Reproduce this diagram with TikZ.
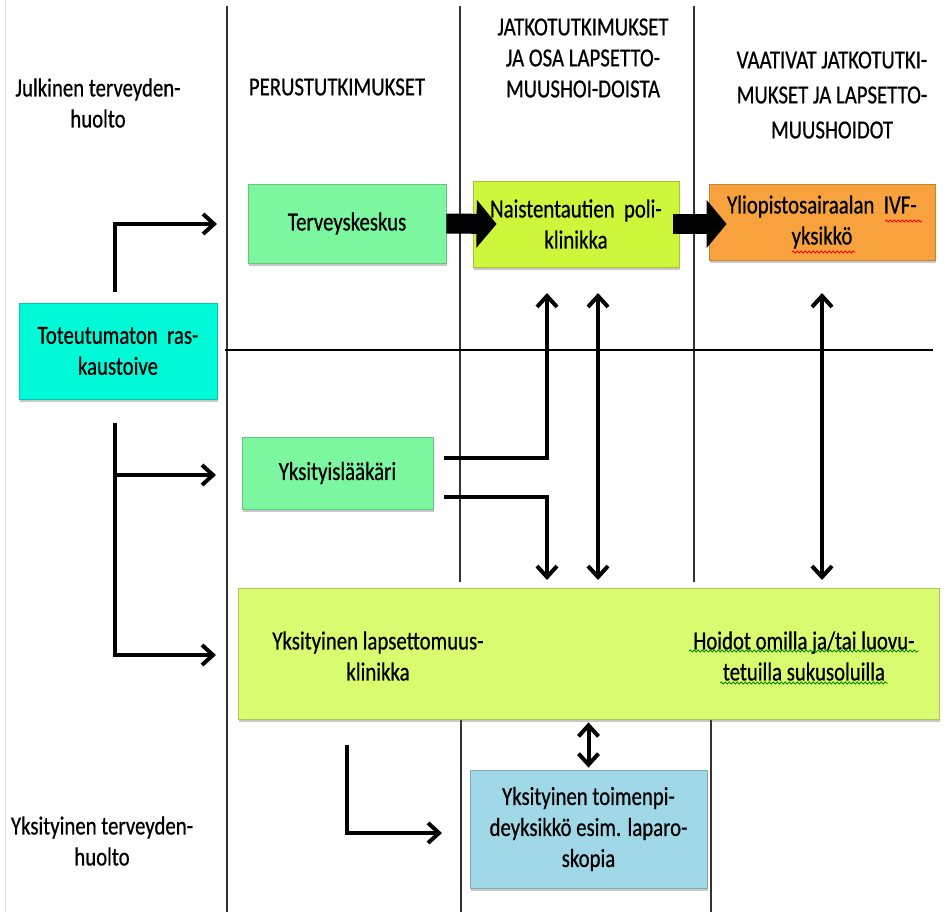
\documentclass[tikz,border=0pt]{standalone}
\usepackage{fontspec}
\setmainfont{Carlito}[FakeStretch=0.8,FakeBold=0.6]
\usepackage{tikz}
\usetikzlibrary{arrows.meta,shadows,decorations.pathmorphing,calc}

\definecolor{tkgreen}{RGB}{124,247,160}
\definecolor{naisyellow}{RGB}{206,247,60}
\definecolor{klinikkagreen}{RGB}{217,251,112}
\definecolor{ivforange}{RGB}{247,162,60}
\definecolor{toivecyan}{RGB}{0,250,216}
\definecolor{opblue}{RGB}{160,216,232}

\begin{document}
\begin{tikzpicture}[x=1pt,y=-1pt,
  every node/.style={font=\fontsize{26}{31}\selectfont, align=center, inner sep=0pt},
  box/.style={fill=#1, draw=#1!80!black, line width=0.8pt,
    drop shadow={shadow xshift=0.5pt,shadow yshift=-3pt,opacity=0.3,fill=black!70}},
  grid/.style={line width=1.4pt, black!80},
  conn/.style={line width=4pt, ->},
  twoway/.style={line width=4pt, <->},
  fat/.style={line width=20pt, -{Triangle[length=20pt,width=47pt]}},
  squiggle/.style={line width=0.8pt, decorate, decoration={snake, amplitude=1pt, segment length=4pt}},
  >={Straight Barb[length=11pt,width=20pt]}]
\fill[white] (0,0) rectangle (945,912);
\useasboundingbox (0,0) rectangle (945,912);

\draw[black!12, line width=0.8pt] (5,0) -- (5,912);
\draw[grid] (227,6) -- (227,912);
\draw[grid] (460,6) -- (460,582);
\draw[grid] (461,720) -- (461,912);
\draw[grid] (694,6) -- (694,582);
\draw[grid] (711,720) -- (711,912);
\draw[line width=2.2pt] (225,350) -- (933,350);

\node (Julkinen) at (98,103) {Julkinen terveyden-\\huolto};
\node (Perus) at (337,87) {PERUSTUTKIMUKSET};
\node (Jatko) at (583,58) {JATKOTUTKIMUKSET\\JA OSA LAPSETTO-\\MUUSHOI-DOISTA};
\node[font=\fontsize{26}{35}\selectfont] (Vaativat) at (832,95) {VAATIVAT JATKOTUTKI-\\MUKSET JA LAPSETTO-\\MUUSHOIDOT};
\node (Yksityinen) at (102,841) {Yksityinen terveyden-\\huolto};

\node[box=tkgreen, minimum width=198pt, minimum height=79pt] (Terveys) at (347,223.5) {Terveyskeskus};
\node[box=naisyellow, minimum width=206pt, minimum height=86pt] (Naisten) at (576,224) {Naistentautien\ \ poli-\\klinikka};
\node[box=ivforange, minimum width=226pt, minimum height=76pt] (Ylio) at (822,222) {Yliopistosairaalan\ \ IVF-\\yksikkö};
\node[box=toivecyan, minimum width=198pt, minimum height=96pt] (Toive) at (118,351) {Toteutumaton\ \ ras-\\kaustoive};
\node[box=tkgreen, minimum width=191pt, minimum height=72pt] (Laakari) at (337.5,473) {Yksityislääkäri};
\node[box=klinikkagreen, minimum width=701pt, minimum height=131pt] (Klinikka) at (588.5,653.5) {};
\node (KlinikkaA) at (378,656) {Yksityinen lapsettomuus-\\klinikka};
\node (Hoidot) at (804,656) {Hoidot omilla ja/tai luovu-\\tetuilla sukusoluilla};
\node[box=opblue, minimum width=237pt, minimum height=118pt] (Toimenpide) at (588.5,829) {Yksityinen toimenpi-\\deyksikkö esim. laparo-\\skopia};

\draw[fat] (Terveys.east) -- ([xshift=24pt]Naisten.west);
\draw[fat] ([xshift=-6pt]Naisten.east) -- ($(Ylio.west |- Naisten.east)+(18,0)$);

\coordinate (UpStart) at (115,292);
\coordinate (UpEnd) at (217,224);
\coordinate (DownStart) at (115,423);
\coordinate (LaakariIn) at (216,475);
\coordinate (KlinikkaIn) at (216,655);
\coordinate (LaakariOutA) at (444,458);
\coordinate (NaisInA) at (547,293);
\coordinate (LaakariOutB) at (444,497);
\coordinate (KlinikkaInA) at (547,580);
\coordinate (NaisInB) at (598,293);
\coordinate (KlinikkaInB) at (598,580);
\coordinate (YlioIn) at (822,293);
\coordinate (KlinikkaInC) at (822,580);
\coordinate (OpStart) at (347,745);
\coordinate (OpIn) at (442,833);

\draw[conn] (UpStart) |- (UpEnd);
\draw[conn] (DownStart) |- (KlinikkaIn);
\draw[conn] (DownStart |- LaakariIn) -- (LaakariIn);
\draw[conn] (LaakariOutA) -| (NaisInA);
\draw[conn] (LaakariOutB) -| (KlinikkaInA);
\draw[twoway] (NaisInB) -- (KlinikkaInB);
\draw[twoway] (YlioIn) -- (KlinikkaInC);
\draw[twoway, shorten <=3pt, shorten >=2pt] (Klinikka.south) -- (Toimenpide.north);
\draw[conn] (OpStart) |- (OpIn);

\draw[squiggle, red] (885,221) -- (922,221);
\draw[squiggle, red] (792,252) -- (855,252);
\draw[squiggle, green!55!black] (689,651) -- (919,651);
\draw[squiggle, green!55!black] (720,683) -- (888,683);
\end{tikzpicture}
\end{document}
